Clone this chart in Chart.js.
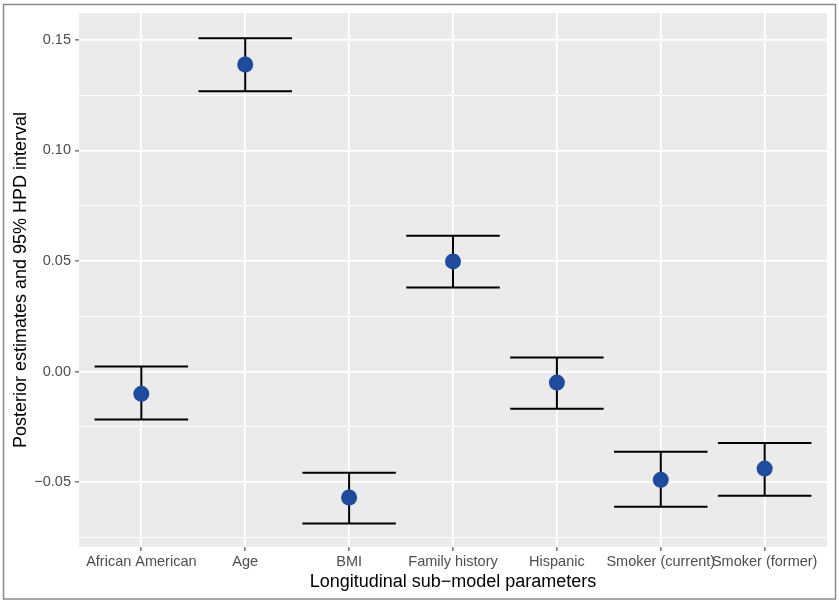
<!DOCTYPE html>
<html>
<head>
<meta charset="utf-8">
<script src="https://cdn.jsdelivr.net/npm/chart.js@4.4.1/dist/chart.umd.min.js"></script>
<style>
    html, body { margin: 0; padding: 0; background: #ffffff; }
    canvas { display: block; }
</style>
</head>
<body>
<canvas id="hpdChart" width="839" height="603"></canvas>
<script>
const categories = [
    'African American',
    'Age',
    'BMI',
    'Family history',
    'Hispanic',
    'Smoker (current)',
    'Smoker (former)',
];
const estimates = [-0.0101, 0.1389, -0.0570, 0.0498, -0.0050, -0.0490, -0.0439];
const lowerHPD = [-0.0217, 0.1268, -0.0688, 0.0380, -0.0169, -0.0612, -0.0562];
const upperHPD = [0.0023, 0.1508, -0.0458, 0.0614, 0.0063, -0.0363, -0.0323];

const yMajorTicks = [-0.05, 0.00, 0.05, 0.10, 0.15];
const yMinorTicks = [-0.075, -0.025, 0.025, 0.075, 0.125];

const fontFamily = '"Liberation Sans", Arial, Helvetica, sans-serif';
const pointColor = '#1f4b9f';

function isMajor(value) {
    return yMajorTicks.some((v) => Math.abs(v - value) < 1e-9);
}

function formatTick(value) {
    const text = Math.abs(value).toFixed(2);
    return value < -1e-9 ? '\u2212' + text : text;
}

// grey panel behind the grid, and the thin frame round the whole figure
const panelPlugin = {
    id: 'panel',
    beforeDraw(chart) {
        const { ctx, chartArea } = chart;
        ctx.save();
        ctx.fillStyle = '#ebebeb';
        ctx.fillRect(chartArea.left, chartArea.top, chartArea.right - chartArea.left, chartArea.bottom - chartArea.top);
        ctx.restore();
    },
    afterDraw(chart) {
        const { ctx } = chart;
        ctx.save();
        ctx.strokeStyle = '#8a8a8a';
        ctx.lineWidth = 1.5;
        ctx.strokeRect(3.5, 4.5, 832, 594.5);
        ctx.restore();
    },
};

// error bars drawn from the HPD arrays through the chart scales
const errorBarPlugin = {
    id: 'errorBars',
    beforeDatasetsDraw(chart) {
        const { ctx, scales } = chart;
        const x = scales.x;
        const y = scales.y;
        const halfWidth = 0.45;
        ctx.save();
        ctx.strokeStyle = '#000000';
        ctx.lineWidth = 2;
        ctx.lineCap = 'butt';
        categories.forEach((_, i) => {
            const px = x.getPixelForValue(i);
            const left = x.getPixelForValue(i - halfWidth);
            const right = x.getPixelForValue(i + halfWidth);
            const top = y.getPixelForValue(upperHPD[i]);
            const bottom = y.getPixelForValue(lowerHPD[i]);
            ctx.beginPath();
            ctx.moveTo(px, top);
            ctx.lineTo(px, bottom);
            ctx.moveTo(left, top);
            ctx.lineTo(right, top);
            ctx.moveTo(left, bottom);
            ctx.lineTo(right, bottom);
            ctx.stroke();
        });
        ctx.restore();
    },
};

new Chart(document.getElementById('hpdChart').getContext('2d'), {
    type: 'scatter',
    data: {
        datasets: [{
            label: 'Posterior estimate',
            data: estimates.map((v, i) => ({ x: i, y: v })),
            backgroundColor: pointColor,
            borderColor: pointColor,
            borderWidth: 0,
            pointRadius: 8,
            pointHoverRadius: 8,
        }],
    },
    options: {
        responsive: false,
        animation: false,
        devicePixelRatio: 1,
        layout: {
            padding: { left: 0, top: 13, right: 12, bottom: 0 },
        },
        plugins: {
            legend: { display: false },
            tooltip: { enabled: false },
        },
        scales: {
            x: {
                type: 'linear',
                min: -0.6,
                max: 6.6,
                afterBuildTicks: (scale) => {
                    scale.ticks = categories.map((_, i) => ({ value: i }));
                },
                afterFit: (scale) => {
                    scale.height = 56;
                },
                border: { display: false },
                grid: {
                    color: '#ffffff',
                    lineWidth: 1.8,
                    tickColor: '#333333',
                    tickWidth: 1,
                    tickLength: 4,
                },
                ticks: {
                    autoSkip: false,
                    maxRotation: 0,
                    minRotation: 0,
                    padding: 2,
                    color: '#4d4d4d',
                    font: { family: fontFamily, size: 14.5, lineHeight: 1.2 },
                    callback: (value) => categories[value] ?? '',
                },
                title: {
                    display: true,
                    text: 'Longitudinal sub\u2212model parameters',
                    color: '#000000',
                    font: { family: fontFamily, size: 18, lineHeight: 1.2 },
                    padding: { top: 0, bottom: 10 },
                },
            },
            y: {
                type: 'linear',
                min: -0.0794,
                max: 0.1622,
                afterBuildTicks: (scale) => {
                    scale.ticks = [...yMinorTicks, ...yMajorTicks]
                        .sort((a, b) => a - b)
                        .map((v) => ({ value: v }));
                },
                afterFit: (scale) => {
                    scale.width = 79;
                },
                border: { display: false },
                grid: {
                    color: '#ffffff',
                    lineWidth: (ctx) => (ctx.tick && isMajor(ctx.tick.value) ? 1.8 : 0.9),
                    tickColor: (ctx) => (ctx.tick && isMajor(ctx.tick.value) ? '#333333' : 'rgba(0,0,0,0)'),
                    tickWidth: 1,
                    tickLength: 4,
                },
                ticks: {
                    padding: 4,
                    color: '#4d4d4d',
                    font: { family: fontFamily, size: 14.5, lineHeight: 1.2 },
                    callback: (value) => (isMajor(value) ? formatTick(value) : ''),
                },
                title: {
                    display: true,
                    text: 'Posterior estimates and 95% HPD interval',
                    color: '#000000',
                    font: { family: fontFamily, size: 18, lineHeight: 1.2 },
                    padding: { top: 10, bottom: 0 },
                },
            },
        },
    },
    plugins: [panelPlugin, errorBarPlugin],
});
</script>
</body>
</html>
